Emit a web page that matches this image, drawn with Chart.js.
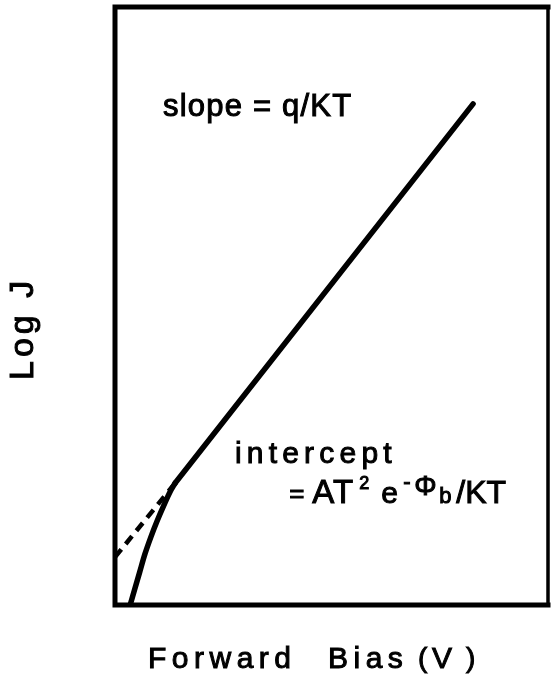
<!DOCTYPE html>
<html>
<head>
<meta charset="utf-8">
<script src="https://cdn.jsdelivr.net/npm/chart.js@4.4.1/dist/chart.umd.min.js"></script>
<style>
	html, body { margin: 0; padding: 0; background: #fff; }
	#wrap { width: 551px; height: 677px; }
</style>
</head>
<body>
<div id="wrap"><canvas id="biasChart"></canvas></div>
<script>
// forward bias vs log J (arbitrary units, 0-100 on both axes)
// low-bias part that bends away from the ideal line
const curveBias = [3.5, 4.5, 5.7, 6.9, 8.3, 9.7, 11.3, 12.7, 13.9];
const curveLogJ = [0, 2.5, 5.5, 8.5, 11.4, 14.0, 16.7, 18.9, 20.4];
// straight (ideal diode) part
const lineBias = [13.9, 82.7];
const lineLogJ = [20.4, 83.8];
// straight part extrapolated back to zero bias
const fitBias = [0, 13.9];
const fitLogJ = [8.0, 20.4];

const FONT = '"Liberation Sans", Arial, sans-serif';

const toPoints = (xs, ys) => xs.map((x, i) => ({ x: x, y: ys[i] }));

// pieces: [text, size, dx, dy, letterSpacing]
const drawPieces = (ctx, x, y, pieces) => {
	pieces.forEach(([text, size, dx, dy, spacing]) => {
		ctx.font = `${size}px ${FONT}`;
		ctx.letterSpacing = (spacing || 0) + 'px';
		ctx.fillText(text, x + dx, y + dy);
		ctx.strokeText(text, x + dx, y + dy);
	});
};

const frameAndLabels = {
	id: 'frameAndLabels',
	afterDraw(chart) {
		const { ctx, chartArea, scales } = chart;
		const xs = scales.x;
		const ys = scales.y;
		ctx.save();
		ctx.strokeStyle = '#000';
		ctx.fillStyle = '#000';
		ctx.lineCap = 'square';

		// box round the plot
		ctx.lineWidth = 5;
		ctx.beginPath();
		ctx.moveTo(chartArea.right, chartArea.top);
		ctx.lineTo(chartArea.left, chartArea.top);
		ctx.lineTo(chartArea.left, chartArea.bottom);
		ctx.lineTo(chartArea.right, chartArea.bottom);
		ctx.stroke();
		ctx.lineWidth = 3.5;
		ctx.beginPath();
		ctx.moveTo(chartArea.right, chartArea.top);
		ctx.lineTo(chartArea.right, chartArea.bottom);
		ctx.stroke();

		ctx.lineWidth = 1;
		ctx.textBaseline = 'alphabetic';
		ctx.textAlign = 'left';

		drawPieces(ctx, xs.getPixelForValue(11.1), ys.getPixelForValue(81.8), [
			['slope = q/KT', 31, 0, 0, 1.2],
		]);

		drawPieces(ctx, xs.getPixelForValue(27.7), ys.getPixelForValue(23.7), [
			['intercept', 30, 0, 0, 5.2],
		]);

		drawPieces(ctx, xs.getPixelForValue(39.8), ys.getPixelForValue(17.1), [
			['=', 26, 2, -1],
			['AT', 33, 25, 0, 1],
			['2', 18, 72, -14],
			['e', 30, 94, 0],
			['-', 22, 116, -14],
			['Φ', 28, 127, -8],
			['b', 22, 152, 0],
			['/KT', 32, 169, 0],
		]);

		// axis titles
		drawPieces(ctx, chartArea.left + 33, chartArea.bottom + 63, [
			['Forward', 30, 0, 0, 5.5],
			['Bias', 30, 180, 0, 5.5],
			['(', 28, 270, -1],
			['V', 30, 284, 0],
			[')', 28, 318, -1],
		]);

		ctx.translate(33, 380);
		ctx.rotate(-Math.PI / 2);
		drawPieces(ctx, 0, 0, [['Log J', 34, 0, 0, 4]]);
		ctx.restore();
	},
};

const lineStyle = {
	borderColor: '#000',
	borderWidth: 5.5,
	pointRadius: 0,
	borderJoinStyle: 'round',
	borderCapStyle: 'round',
};

const ctx = document.getElementById('biasChart').getContext('2d');
const biasChart = new Chart(ctx, {
	type: 'line',
	data: {
		datasets: [
			{
				...lineStyle,
				data: toPoints(curveBias, curveLogJ),
				cubicInterpolationMode: 'monotone',
			},
			{
				...lineStyle,
				data: toPoints(lineBias, lineLogJ),
				tension: 0,
			},
			{
				data: toPoints(fitBias, fitLogJ),
				borderColor: '#000',
				borderWidth: 4.5,
				borderDash: [10, 7],
				pointRadius: 0,
				tension: 0,
			},
		],
	},
	options: {
		responsive: true,
		maintainAspectRatio: false,
		animation: false,
		layout: { padding: { left: 115, right: 3, top: 7, bottom: 72 } },
		plugins: {
			legend: { display: false },
			tooltip: { enabled: false },
		},
		scales: {
			x: { type: 'linear', min: 0, max: 100, display: false },
			y: { type: 'linear', min: 0, max: 100, display: false },
		},
	},
	plugins: [frameAndLabels],
});
</script>
</body>
</html>
